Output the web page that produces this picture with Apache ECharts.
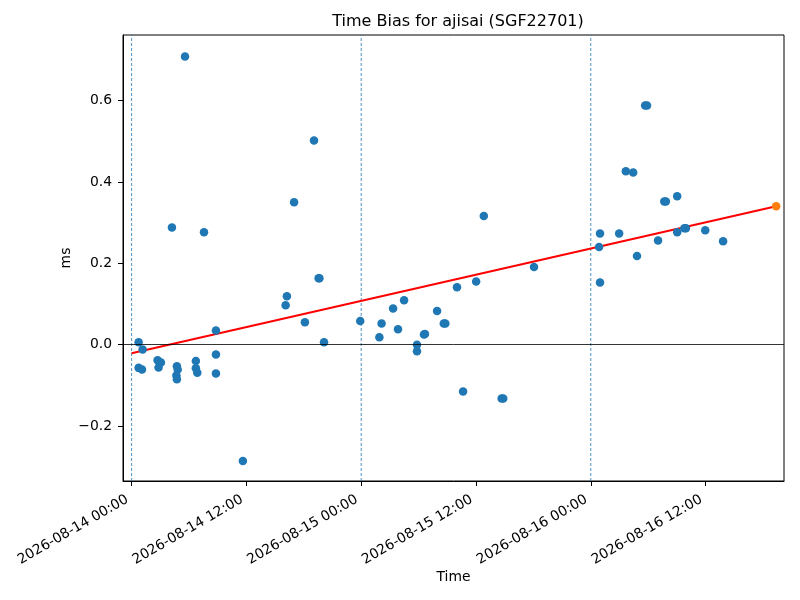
<!DOCTYPE html>
<html>
<head>
<meta charset="utf-8">
<script src="https://cdn.jsdelivr.net/npm/echarts@6/dist/echarts.min.js"></script>
<style>html,body{margin:0;padding:0;background:#fff}#c{width:800px;height:600px}</style>
</head>
<body>
<div id="c"></div>
<script>
const times = [
  '2026-08-14 00:44','2026-08-14 01:09','2026-08-14 00:44','2026-08-14 01:05','2026-08-14 02:43',
  '2026-08-14 03:04','2026-08-14 02:49','2026-08-14 04:13','2026-08-14 04:44','2026-08-14 04:49',
  '2026-08-14 04:41','2026-08-14 04:44','2026-08-14 05:35','2026-08-14 06:43','2026-08-14 06:43',
  '2026-08-14 06:52','2026-08-14 07:34','2026-08-14 08:49','2026-08-14 08:49','2026-08-14 08:49',
  '2026-08-14 11:38','2026-08-14 16:06','2026-08-14 16:14','2026-08-14 16:59','2026-08-14 18:07',
  '2026-08-14 19:04','2026-08-14 19:33','2026-08-14 19:38','2026-08-14 20:07','2026-08-14 23:54',
  '2026-08-15 01:54','2026-08-15 02:08','2026-08-15 03:20','2026-08-15 03:51','2026-08-15 04:29',
  '2026-08-15 05:50','2026-08-15 05:50','2026-08-15 06:34','2026-08-15 06:40','2026-08-15 07:56',
  '2026-08-15 08:38','2026-08-15 08:48','2026-08-15 10:01','2026-08-15 10:39','2026-08-15 12:01',
  '2026-08-15 12:49','2026-08-15 14:41','2026-08-15 14:51','2026-08-15 18:04',
  '2026-08-16 00:52','2026-08-16 00:58','2026-08-16 00:58','2026-08-16 02:58','2026-08-16 03:40',
  '2026-08-16 04:26','2026-08-16 04:50','2026-08-16 05:41','2026-08-16 05:53','2026-08-16 07:02',
  '2026-08-16 07:41','2026-08-16 07:51','2026-08-16 09:02','2026-08-16 09:02','2026-08-16 09:47',
  '2026-08-16 09:57','2026-08-16 11:58','2026-08-16 13:50'
];
const biasMs = [
  0.006,-0.012,-0.057,-0.061,-0.038,
  -0.044,-0.056,0.288,-0.053,-0.061,
  -0.076,-0.085,0.708,-0.040,-0.058,
  -0.069,0.276,0.035,-0.024,-0.071,
  -0.286,0.097,0.119,0.350,0.055,
  0.502,0.163,0.163,0.006,0.058,
  0.018,0.052,0.089,0.038,0.109,
  0.000,-0.016,0.025,0.026,0.083,
  0.052,0.052,0.141,-0.115,0.155,
  0.316,-0.132,-0.132,0.191,
  0.240,0.273,0.153,0.273,0.426,
  0.423,0.218,0.588,0.588,0.256,
  0.352,0.352,0.365,0.276,0.286,
  0.286,0.281,0.254
];
const fitTimes = ['2026-08-14 00:00','2026-08-16 19:23'];
const fitValues = [-0.021, 0.340];
const predTime = '2026-08-16 19:23';
const predValue = 0.340;
const dayLines = ['2026-08-14 00:00','2026-08-15 00:00','2026-08-16 00:00'];
const xTicks = ['2026-08-14 00:00','2026-08-14 12:00','2026-08-15 00:00','2026-08-15 12:00','2026-08-16 00:00','2026-08-16 12:00'];
const yTicks = [-0.2, 0.0, 0.2, 0.4, 0.6];
const xRange = ['2026-08-13 23:06','2026-08-16 20:12'];
const yRange = [-0.335, 0.761];

function ts(s){
  const [d,t] = s.split(' ');
  const [Y,M,D] = d.split('-').map(Number);
  const [h,m] = t.split(':').map(Number);
  return Date.UTC(Y, M-1, D, h, m);
}
function p2(n){ return (n<10?'0':'') + n; }
function fmt(v){
  const d = new Date(v);
  return d.getUTCFullYear() + '-' + p2(d.getUTCMonth()+1) + '-' + p2(d.getUTCDate()) + ' ' + p2(d.getUTCHours()) + ':' + p2(d.getUTCMinutes());
}
function fmtY(v){
  const r = Math.round(v*10)/10;
  if (Math.abs(r) < 1e-9) return '0.0';
  return (r < 0 ? '\u2212' : '') + Math.abs(r).toFixed(1);
}

const font = 'DejaVu Sans';
const dayLineSeries = dayLines.map(d => ({
  type: 'line',
  data: [[ts(d), yRange[0]], [ts(d), yRange[1]]],
  showSymbol: false, symbol: 'none', silent: true,
  lineStyle: {color: '#1f77b4', width: 0.8, type: [3, 2], opacity: 1},
  emphasis: {disabled: true},
  z: 1
}));

const chart = echarts.init(document.getElementById('c'), null, {renderer:'canvas'});
chart.setOption({
  animation: false,
  backgroundColor: '#fff',
  title: {
    text: 'Time Bias for ajisai (SGF22701)',
    left: 453, top: 9, textAlign: 'center',
    textStyle: {fontFamily: font, fontSize: 16, fontWeight: 'normal', color: '#000'}
  },
  grid: {left: 123, right: 16, top: 35, bottom: 119, show: true, borderColor: '#000', borderWidth: 1, backgroundColor: 'transparent'},
  xAxis: {
    type: 'value',
    min: ts(xRange[0]), max: ts(xRange[1]),
    name: 'Time', nameLocation: 'middle', nameGap: 89, nameMoveOverlap: false,
    nameTextStyle: {fontFamily: font, fontSize: 13.9, color: '#000'},
    axisLine: {show: true, onZero: false, lineStyle: {color: '#000', width: 1}},
    axisTick: {show: true, inside: false, length: 5, lineStyle: {color: '#000', width: 1}, customValues: xTicks.map(ts)},
    axisLabel: {show: true, rotate: 30, margin: 15, padding: [0, 5, 0, 0], fontFamily: font, fontSize: 13.9, color: '#000',
      customValues: xTicks.map(ts), formatter: v => fmt(v)},
    splitLine: {show: false}
  },
  yAxis: {
    type: 'value',
    min: yRange[0], max: yRange[1],
    name: 'ms', nameLocation: 'middle', nameGap: 50, nameRotate: 90, nameMoveOverlap: false,
    nameTextStyle: {fontFamily: font, fontSize: 13.9, color: '#000'},
    axisLine: {show: true, onZero: false, lineStyle: {color: '#000', width: 1}},
    axisTick: {show: true, inside: false, length: 5, lineStyle: {color: '#000', width: 1}, customValues: yTicks},
    axisLabel: {show: true, margin: 11, fontFamily: font, fontSize: 13.9, color: '#000',
      customValues: yTicks, formatter: v => fmtY(v)},
    splitLine: {show: false}
  },
  series: [
    ...dayLineSeries,
    {
      type: 'line',
      data: [],
      silent: true,
      markLine: {
        silent: true, symbol: 'none', label: {show: false},
        lineStyle: {color: '#000', width: 0.8, type: 'solid', opacity: 1},
        emphasis: {disabled: true},
        data: [{yAxis: 0}]
      }
    },
    {
      type: 'line',
      data: fitTimes.map((t,i) => [ts(t), fitValues[i]]),
      showSymbol: false, symbol: 'none',
      lineStyle: {color: '#ff0000', width: 2},
      z: 2
    },
    {
      type: 'scatter',
      data: times.map((t,i) => [ts(t), biasMs[i]]),
      symbolSize: 8.5,
      itemStyle: {color: '#1f77b4', opacity: 1},
      z: 3
    },
    {
      type: 'scatter',
      data: [[ts(predTime), predValue]],
      symbolSize: 8.5,
      itemStyle: {color: '#ff7f0e', opacity: 1},
      z: 4
    }
  ]
});
</script>
</body>
</html>
